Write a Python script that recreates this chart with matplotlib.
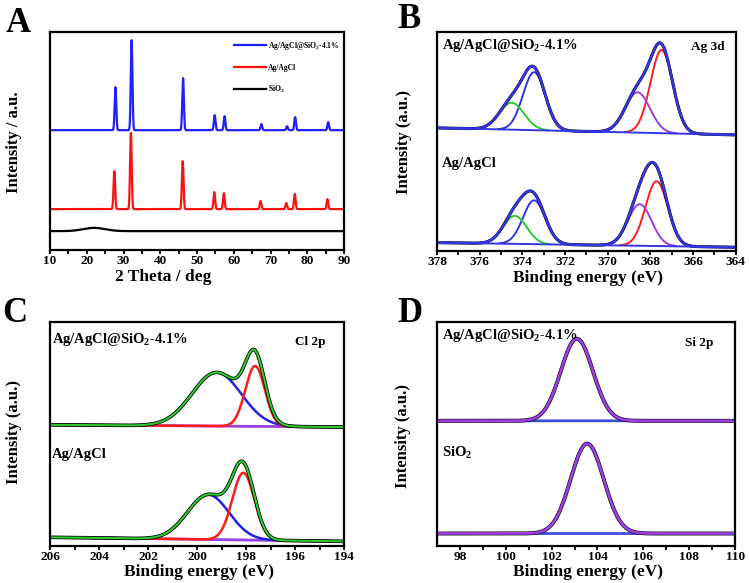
import numpy as np
import matplotlib.pyplot as plt

plt.rcParams['font.family'] = 'Liberation Serif'
plt.rcParams['font.weight'] = 'bold'
plt.rcParams['mathtext.fontset'] = 'custom'
plt.rcParams['mathtext.rm'] = 'Liberation Serif:bold'
plt.rcParams['mathtext.bf'] = 'Liberation Serif:bold'
plt.rcParams['mathtext.default'] = 'bf'

# ---- A: XRD (peak centre, height)
xrd_blue_pos = [27.8, 32.2, 46.2, 54.8, 57.5, 67.5, 74.5, 76.7, 85.7]
xrd_blue_h = [19.7, 41.3, 23.9, 6.9, 6.4, 2.8, 1.8, 6.0, 3.7]
xrd_red_pos = [27.5, 32.0, 46.1, 54.7, 57.3, 67.3, 74.3, 76.6, 85.5]
xrd_red_h = [17.4, 34.9, 22.0, 7.8, 7.3, 3.7, 2.8, 6.9, 4.6]
xrd_base = [55.0, 18.8, 8.7]          # blue, red, black offsets
sio2_hump = [22.0, 1.5, 3.0]          # centre, height, sigma

# ---- B: Ag 3d fitted components (centre, height, sigma)
b_top_base = [56.2, 53.0]
b_top_red = [367.48, 38.0, 0.52]
b_top_purple = [368.6, 18.4, 0.58]
b_top_blue = [373.45, 26.5, 0.52]
b_top_green = [374.5, 12.3, 0.58]
b_bot_base = [3.8, 1.7]
b_bot_red = [367.71, 29.6, 0.52]
b_bot_purple = [368.5, 19.0, 0.55]
b_bot_blue = [373.45, 20.0, 0.52]
b_bot_green = [374.35, 12.8, 0.55]

# ---- C: Cl 2p
c_top_base = [54.2, 53.2]
c_top_red = [197.63, 27.0, 0.4]
c_top_blue = [199.2, 24.0, 1.0]
c_bot_base = [3.9, 2.1]
c_bot_red = [198.11, 30.0, 0.45]
c_bot_blue = [199.54, 20.0, 0.85]

# ---- D: Si 2p
d_top_base = 56.0
d_top_peak = [103.1, 36.7, 0.7]
d_bot_base = 5.6
d_bot_peak = [103.55, 40.2, 0.72]

BLUE = '#3434e0'
RED = '#ff1c1c'
GREEN = '#2ec92e'
PURPLE = '#9b3fe0'


def gauss(x, p):
    return p[1] * np.exp(-0.5 * ((x - p[0]) / p[2]) ** 2)


def line(x, b):
    return b[0] + (b[1] - b[0]) * (x - x[0]) / (x[-1] - x[0])


def style(ax, xlim, ticks, minor, xlabel, ylabel, xl, yl):
    ax.set_xlim(*xlim)
    ax.set_ylim(0, 100)
    ax.set_xticks(ticks)
    ax.set_xticks(minor, minor=True)
    ax.set_yticks([])
    ax.tick_params(axis='x', which='both', direction='out', length=3, width=1.3,
                   pad=0.5, labelsize=9.5)
    for lab in ax.get_xticklabels():
        lab.set_fontweight('bold')
    for s in ax.spines.values():
        s.set_linewidth(1.6)
    ax.set_xlabel(xlabel, fontsize=12.5, fontweight='bold', va='center')
    ax.set_ylabel(ylabel, fontsize=12, fontweight='bold', va='center')
    ax.xaxis.set_label_coords(*xl)
    ax.yaxis.set_label_coords(*yl)


fig = plt.figure(figsize=(7.49, 5.83), dpi=100)
axA = fig.add_axes([0.0668, 0.571, 0.3925, 0.374])
axB = fig.add_axes([0.5834, 0.5695, 0.399, 0.3756])
axC = fig.add_axes([0.0668, 0.0634, 0.3925, 0.3836])
axD = fig.add_axes([0.5834, 0.0634, 0.398, 0.3836])

# A
tt = np.linspace(10, 90, 6000)
yb = xrd_base[0] + sum(gauss(tt, [p, h, 0.22]) for p, h in zip(xrd_blue_pos, xrd_blue_h))
yr = xrd_base[1] + sum(gauss(tt, [p, h, 0.22]) for p, h in zip(xrd_red_pos, xrd_red_h))
yk = xrd_base[2] + gauss(tt, sio2_hump)
axA.plot(tt, yb, color='#1f1fff', lw=1.6, label='Ag/AgCl@SiO$_2$-4.1%')
axA.plot(tt, yr, color='#ff1010', lw=1.6, label='Ag/AgCl')
axA.plot(tt, yk, color='black', lw=1.6, label='SiO$_2$')
style(axA, (10, 90), range(10, 91, 10), range(15, 90, 10), '2 Theta / deg',
      'Intensity / a.u.', (0.384, -0.122), (-0.122, 0.495))
axA.legend(loc='upper left', bbox_to_anchor=(0.625, 0.965), frameon=False,
           fontsize=5.5, handlelength=4.2, handletextpad=0.3, labelspacing=1.6,
           borderpad=0, borderaxespad=0)

# B
eb = np.linspace(378, 364, 1500)
for base, comps in [(b_top_base, [b_top_red, b_top_purple, b_top_blue, b_top_green]),
                    (b_bot_base, [b_bot_red, b_bot_purple, b_bot_blue, b_bot_green])]:
    bl = line(eb, base)
    for p, c in zip(comps, [RED, PURPLE, BLUE, GREEN]):
        g = gauss(eb, p)
        m = g > 0.15
        axB.plot(eb[m], bl[m] + g[m], color=c, lw=1.4)
    env = bl + sum(gauss(eb, p) for p in comps)
    axB.plot(eb, env, color='black', lw=2.2)
    axB.plot(eb, bl, color=BLUE, lw=1.4)
    axB.plot(eb, env, color=BLUE, lw=1.8)
style(axB, (378, 364), range(378, 363, -2), np.arange(377, 364, -2), 'Binding energy (eV)',
      'Intensity (a.u.)', (0.505, -0.125), (-0.110, 0.498))
axB.text(0.017, 0.94, 'Ag/AgCl@SiO$_2$-4.1%', transform=axB.transAxes, fontsize=10.5, va='center')
axB.text(0.85, 0.93, 'Ag 3d', transform=axB.transAxes, fontsize=9.5, va='center')
axB.text(0.017, 0.40, 'Ag/AgCl', transform=axB.transAxes, fontsize=10.5, va='center')

# C
ec = np.linspace(206, 194, 1500)
for base, red, blue in [(c_top_base, c_top_red, c_top_blue), (c_bot_base, c_bot_red, c_bot_blue)]:
    bl = line(ec, base)
    env = bl + gauss(ec, red) + gauss(ec, blue)
    axC.plot(ec, bl, color=PURPLE, lw=2.0)
    axC.plot(ec, bl + gauss(ec, blue), color='#2323e0', lw=1.8)
    axC.plot(ec, bl + gauss(ec, red), color=RED, lw=1.8)
    axC.plot(ec, env, color='black', lw=2.6)
    axC.plot(ec, env, color=GREEN, lw=1.5)
style(axC, (206, 194), range(206, 193, -2), np.arange(205, 194, -2), 'Binding energy (eV)',
      'Intensity (a.u.)', (0.507, -0.118), (-0.122, 0.51))
axC.text(0.007, 0.924, 'Ag/AgCl@SiO$_2$-4.1%', transform=axC.transAxes, fontsize=10.5, va='center')
axC.text(0.833, 0.911, 'Cl 2p', transform=axC.transAxes, fontsize=9.5, va='center')
axC.text(0.007, 0.409, 'Ag/AgCl', transform=axC.transAxes, fontsize=10.5, va='center')

# D
ed = np.linspace(97, 110, 1500)
for base, pk in [(d_top_base, d_top_peak), (d_bot_base, d_bot_peak)]:
    fit = base + gauss(ed, pk)
    axD.plot(ed, np.full_like(ed, base), color='#3a4fe0', lw=2.0)
    axD.plot(ed, fit, color='black', lw=2.8)
    axD.plot(ed, fit, color=PURPLE, lw=2.0)
style(axD, (97, 110), range(98, 111, 2), range(99, 110, 2), 'Binding energy (eV)',
      'Intensity (a.u.)', (0.505, -0.118), (-0.114, 0.49))
axD.text(0.017, 0.942, 'Ag/AgCl@SiO$_2$-4.1%', transform=axD.transAxes, fontsize=10.5, va='center')
axD.text(0.832, 0.907, 'Si 2p', transform=axD.transAxes, fontsize=9.5, va='center')
axD.text(0.017, 0.418, 'SiO$_2$', transform=axD.transAxes, fontsize=10.5, va='center')

for letter, x, y in [('A', 0.007, 0.945), ('B', 0.530, 0.952), ('C', 0.003, 0.448), ('D', 0.530, 0.448)]:
    fig.text(x, y, letter, fontsize=25, fontweight='bold', va='baseline')

fig.savefig('out.png', dpi=100)
